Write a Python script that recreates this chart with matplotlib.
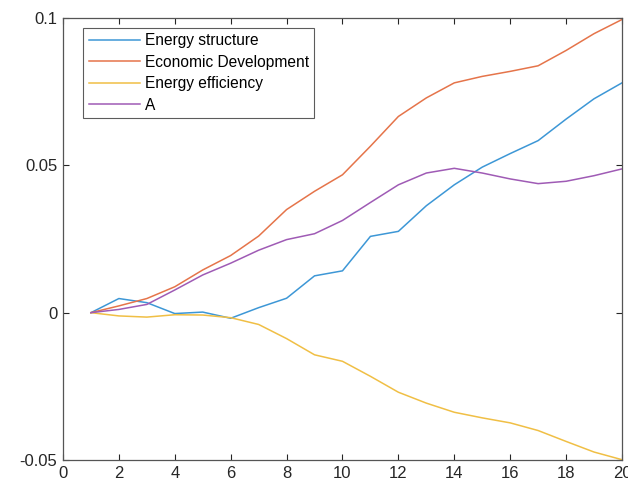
import numpy as np
import matplotlib
matplotlib.use("Agg")
import matplotlib.pyplot as plt
from matplotlib.ticker import FixedLocator

# %% Data
x = list(range(1, 21))
energy_structure = [0.0, 0.0048, 0.0034, -0.0003, 0.0002, -0.0019, 0.0017, 0.0049,
                    0.0125, 0.0142, 0.0259, 0.0276, 0.0363, 0.0434, 0.0494, 0.054,
                    0.0584, 0.0657, 0.0726, 0.078]
economic_dev = [0.0, 0.0023, 0.0048, 0.0088, 0.0145, 0.0194, 0.026, 0.035,
                0.0412, 0.0468, 0.0565, 0.0666, 0.0729, 0.078, 0.0802, 0.0819,
                0.0838, 0.089, 0.0947, 0.0995]
energy_eff = [0.0, -0.0011, -0.0015, -0.0007, -0.0008, -0.0017, -0.004, -0.0088,
              -0.0143, -0.0165, -0.0216, -0.027, -0.0307, -0.0338, -0.0357, -0.0374,
              -0.04, -0.0437, -0.0473, -0.0499]
series_a = [0.0, 0.0011, 0.0028, 0.0077, 0.0128, 0.0168, 0.0212, 0.0248,
            0.0268, 0.0313, 0.0374, 0.0434, 0.0474, 0.049, 0.0474, 0.0454,
            0.0438, 0.0446, 0.0465, 0.0488]

labels = ["Energy structure", "Economic Development", "Energy efficiency", "A"]
colors = ["#3d97d6", "#e5744a", "#f0bf45", "#9f5bb5"]

# %% Plot
plt.rcParams["font.family"] = ["Liberation Sans", "DejaVu Sans"]
fig = plt.figure(figsize=(6.28, 4.88), dpi=100)
ax = fig.add_axes([0.1003, 0.0574, 0.8901, 0.9056])

for ys, lbl, c in zip([energy_structure, economic_dev, energy_eff, series_a], labels, colors):
    ax.plot(x, ys, color=c, lw=1.1, label=lbl)

ax.set_xlim(0, 20)
ax.set_ylim(-0.05, 0.1)
ax.xaxis.set_major_locator(FixedLocator(range(0, 21, 2)))
ax.set_yticks([-0.05, 0, 0.05, 0.1])
ax.set_yticklabels(["-0.05", "0", "0.05", "0.1"])
ax.tick_params(direction="in", top=True, right=True, labelsize=12,
               colors="#262626", length=4, width=0.8, pad=4)
for sp in ax.spines.values():
    sp.set_color("#555555")
    sp.set_linewidth(0.9)

leg = ax.legend(loc="upper left", bbox_to_anchor=(0.036, 0.978), fontsize=11.2,
                frameon=True, fancybox=False, borderpad=0.35, labelspacing=0.42,
                handlelength=3.3, handletextpad=0.3, borderaxespad=0)
leg.get_frame().set_edgecolor("#333333")
leg.get_frame().set_linewidth(0.8)

fig.savefig("out.png", dpi=100)
